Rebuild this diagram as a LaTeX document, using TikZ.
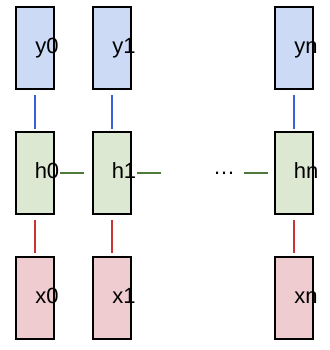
\documentclass[tikz,border=0pt]{standalone}
\usepackage{fontspec}
\setmainfont{Liberation Sans}
\usepackage{xcolor}
\usetikzlibrary{positioning, arrows}

\definecolor{yfill}{HTML}{CCDAF5}
\definecolor{hfill}{HTML}{DDE8D3}
\definecolor{xfill}{HTML}{EECCD0}
\definecolor{yline}{HTML}{3B5FDB}
\definecolor{hline}{HTML}{4E7A3A}
\definecolor{xline}{HTML}{CC3333}

\tikzset{
  cell/.style={draw=black, line width=2pt, minimum width=37.3pt, minimum height=82pt, inner sep=0pt},
  ycell/.style={cell, fill=yfill},
  hcell/.style={cell, fill=hfill},
  xcell/.style={cell, fill=xfill},
  tag/.style={xshift=12pt, yshift=2pt, inner sep=0pt, text height=16pt, text depth=0pt},
  ylink/.style={draw=yline, line width=2pt, shorten <=5.5pt, shorten >=1.8pt},
  xlink/.style={draw=xline, line width=2pt, shorten <=5.3pt, shorten >=3pt},
  hlink/.style={draw=hline, line width=2pt, shorten <=5.7pt, shorten >=8pt}
}

\begin{document}
\begin{tikzpicture}[x=1pt, y=1pt, line width=1.6pt,
    every node/.style={font=\fontsize{22}{26}\selectfont}]
      \useasboundingbox (0,0) rectangle (329,350);

      \node[xcell, label={[tag, name=x0t]center:x0}] (x0) at (35,52) {};
      \node[xcell, label={[tag, name=x1t]center:x1}] (x1) at (112,52) {};
      \node[xcell, label={[tag, name=xnt]center:xn}] (xn) at (294,52) {};

      \node[hcell, label={[tag, name=h0t]center:h0}] (h0) [above=41pt of x0] {};
      \node[hcell, label={[tag, name=h1t]center:h1}] (h1) [above=41pt of x1] {};
      \node[hcell, label={[tag, name=hnt]center:hn}] (hn) [above=41pt of xn] {};

      \node[ycell, label={[tag, name=y0t]center:y0}] (y0) [above=41pt of h0] {};
      \node[ycell, label={[tag, name=y1t]center:y1}] (y1) [above=41pt of h1] {};
      \node[ycell, label={[tag, name=ynt]center:yn}] (yn) [above=41pt of hn] {};

      \node[anchor=base, inner sep=0pt] (dots) at (224,175) {\ldots};
      \coordinate (h1end) at (161,177);
      \coordinate (dotsend) at (244,177);

      \foreach \col in {0,1,n} {
        \draw[ylink] (y\col) -- (h\col);
        \draw[xlink] (h\col) -- (x\col);
      }
      \draw[hlink] (h0) -- (h1);
      \draw[hlink, shorten >=0pt] (h1) -- (h1end);
      \draw[hlink, shorten <=0pt, shorten >=6pt] (dotsend) -- (hn);
    \end{tikzpicture}
\end{document}
